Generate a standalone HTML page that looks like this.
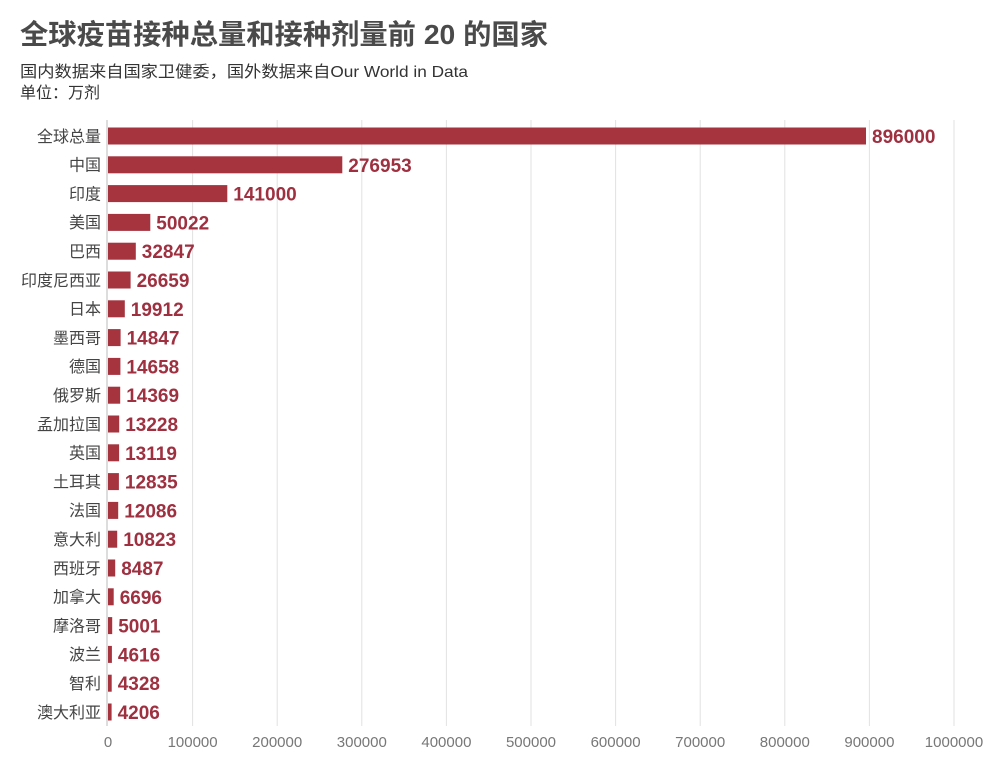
<!DOCTYPE html><html><head><meta charset="utf-8"><style>
body{margin:0;background:#fff;width:1000px;height:764px;overflow:hidden;}
</style></head><body>
<svg width="1000" height="764" xmlns="http://www.w3.org/2000/svg" style="font-family:'Liberation Sans','Noto Sans CJK SC',sans-serif">
<text x="20" y="44" font-size="28" font-weight="bold" fill="#4a4a4a" textLength="528" lengthAdjust="spacingAndGlyphs">全球疫苗接种总量和接种剂量前 20 的国家</text>
<text x="20" y="77" font-size="16" fill="#333" textLength="448" lengthAdjust="spacingAndGlyphs">国内数据来自国家卫健委，国外数据来自Our World in Data</text>
<text x="20" y="98" font-size="16" fill="#333">单位：万剂</text>
<g stroke="#e2e2e2" stroke-width="1">
<line x1="192.6" y1="120" x2="192.6" y2="726"/><line x1="277.2" y1="120" x2="277.2" y2="726"/><line x1="361.8" y1="120" x2="361.8" y2="726"/><line x1="446.4" y1="120" x2="446.4" y2="726"/><line x1="531" y1="120" x2="531" y2="726"/><line x1="615.6" y1="120" x2="615.6" y2="726"/><line x1="700.2" y1="120" x2="700.2" y2="726"/><line x1="784.8" y1="120" x2="784.8" y2="726"/><line x1="869.4" y1="120" x2="869.4" y2="726"/><line x1="954" y1="120" x2="954" y2="726"/>
</g>
<line x1="107" y1="120" x2="107" y2="726" stroke="#bbb" stroke-width="1"/>
<g font-size="15" fill="#777" text-anchor="middle">
<text x="108" y="747">0</text><text x="192.6" y="747">100000</text><text x="277.2" y="747">200000</text><text x="361.8" y="747">300000</text><text x="446.4" y="747">400000</text><text x="531" y="747">500000</text><text x="615.6" y="747">600000</text><text x="700.2" y="747">700000</text><text x="784.8" y="747">800000</text><text x="869.4" y="747">900000</text><text x="954" y="747">1000000</text>
</g>
<g fill="#a5343f">
<rect x="108" y="127.5" width="758" height="17"/>
<rect x="108" y="156.3" width="234.3" height="17"/>
<rect x="108" y="185.1" width="119.3" height="17"/>
<rect x="108" y="213.9" width="42.3" height="17"/>
<rect x="108" y="242.7" width="27.8" height="17"/>
<rect x="108" y="271.5" width="22.6" height="17"/>
<rect x="108" y="300.3" width="16.8" height="17"/>
<rect x="108" y="329.1" width="12.6" height="17"/>
<rect x="108" y="357.9" width="12.4" height="17"/>
<rect x="108" y="386.7" width="12.2" height="17"/>
<rect x="108" y="415.5" width="11.2" height="17"/>
<rect x="108" y="444.3" width="11.1" height="17"/>
<rect x="108" y="473.1" width="10.9" height="17"/>
<rect x="108" y="501.9" width="10.2" height="17"/>
<rect x="108" y="530.7" width="9.2" height="17"/>
<rect x="108" y="559.5" width="7.2" height="17"/>
<rect x="108" y="588.3" width="5.7" height="17"/>
<rect x="108" y="617.1" width="4.2" height="17"/>
<rect x="108" y="645.9" width="3.9" height="17"/>
<rect x="108" y="674.7" width="3.7" height="17"/>
<rect x="108" y="703.5" width="3.6" height="17"/>
</g>
<g font-size="16" fill="#444" text-anchor="end">
<text x="101" y="141.8">全球总量</text>
<text x="101" y="170.6">中国</text>
<text x="101" y="199.4">印度</text>
<text x="101" y="228.2">美国</text>
<text x="101" y="257">巴西</text>
<text x="101" y="285.8">印度尼西亚</text>
<text x="101" y="314.6">日本</text>
<text x="101" y="343.4">墨西哥</text>
<text x="101" y="372.2">德国</text>
<text x="101" y="401">俄罗斯</text>
<text x="101" y="429.8">孟加拉国</text>
<text x="101" y="458.6">英国</text>
<text x="101" y="487.4">土耳其</text>
<text x="101" y="516.2">法国</text>
<text x="101" y="545">意大利</text>
<text x="101" y="573.8">西班牙</text>
<text x="101" y="602.6">加拿大</text>
<text x="101" y="631.4">摩洛哥</text>
<text x="101" y="660.2">波兰</text>
<text x="101" y="689">智利</text>
<text x="101" y="717.8">澳大利亚</text>
</g>
<g font-size="19" font-weight="bold" fill="#9e3040">
<text x="872" y="143">896000</text>
<text x="348.3" y="171.8">276953</text>
<text x="233.3" y="200.6">141000</text>
<text x="156.3" y="229.4">50022</text>
<text x="141.8" y="258.2">32847</text>
<text x="136.6" y="287">26659</text>
<text x="130.8" y="315.8">19912</text>
<text x="126.6" y="344.6">14847</text>
<text x="126.4" y="373.4">14658</text>
<text x="126.2" y="402.2">14369</text>
<text x="125.2" y="431">13228</text>
<text x="125.1" y="459.8">13119</text>
<text x="124.9" y="488.6">12835</text>
<text x="124.2" y="517.4">12086</text>
<text x="123.2" y="546.2">10823</text>
<text x="121.2" y="575">8487</text>
<text x="119.7" y="603.8">6696</text>
<text x="118.2" y="632.6">5001</text>
<text x="117.9" y="661.4">4616</text>
<text x="117.7" y="690.2">4328</text>
<text x="117.6" y="719">4206</text>
</g>
</svg></body></html>
